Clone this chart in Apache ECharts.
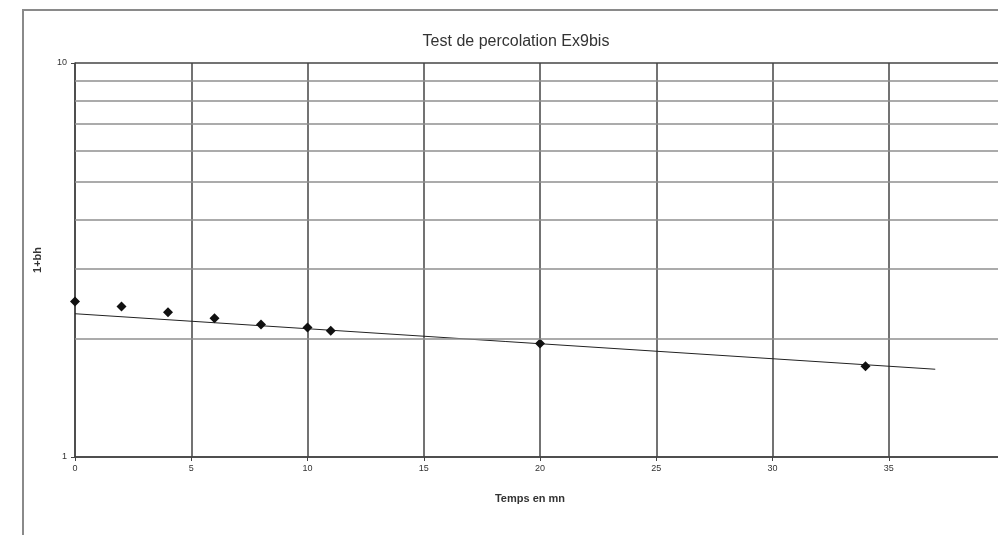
<!DOCTYPE html>
<html>
<head>
<meta charset="utf-8">
<script src="https://cdn.jsdelivr.net/npm/echarts@6/dist/echarts.min.js"></script>
<style>
  html, body { margin: 0; padding: 0; background: #fff; }
  #chart { width: 998px; height: 535px; }
</style>
</head>
<body>
<div id="chart"></div>
<script>
var tempsMn = [0, 2, 4, 6, 8, 10, 11, 20, 34];
var unPlusBh = [2.48, 2.41, 2.33, 2.25, 2.17, 2.13, 2.09, 1.94, 1.70];

// courbe de tendance (exponentielle, droite en echelle log)
var tendanceX = [0, 37];
var tendanceY = [2.31, 1.67];

// lignes secondaires de l'axe log
var lignesY = [2, 3, 4, 5, 6, 7, 8, 9];

var chart = echarts.init(document.getElementById('chart'));

var points = tempsMn.map(function (t, i) { return [t, unPlusBh[i]]; });
var tendance = tendanceX.map(function (t, i) { return [t, tendanceY[i]]; });

var option = {
    animation: false,
    textStyle: { fontFamily: 'Liberation Sans' },
    graphic: [{
        type: 'rect',
        shape: { x: 23, y: 10, width: 1000, height: 600 },
        style: { fill: 'none', stroke: '#8a8a8a', lineWidth: 2 },
        z: 100
    }],
    title: {
        text: 'Test de percolation Ex9bis',
        left: 511,
        top: 29,
        textAlign: 'center',
        textStyle: { fontSize: 16, fontWeight: 'normal', color: '#333' }
    },
    // le graphique d'origine est coupe a droite : la grille depasse le cadre
    grid: { left: 75, top: 63, width: 930, height: 394, outerBoundsMode: 'none', containLabel: false },
    xAxis: {
        type: 'value',
        min: 0,
        max: 40,
        interval: 5,
        name: 'Temps en mn',
        nameLocation: 'middle',
        nameGap: 36,
        nameTextStyle: { fontSize: 11, fontWeight: 'bold', color: '#333', padding: [0, 20, 0, 0] },
        axisLine: { lineStyle: { color: '#444', width: 1.5 } },
        axisTick: { show: true, length: 4, lineStyle: { color: '#444' } },
        axisLabel: { fontSize: 9, color: '#333', margin: 7, showMaxLabel: false },
        splitLine: { show: true, lineStyle: { color: '#444', width: 1.5 } }
    },
    yAxis: {
        type: 'log',
        logBase: 10,
        min: 1,
        max: 10,
        name: '1+bh',
        nameLocation: 'middle',
        nameGap: 32,
        nameRotate: 90,
        nameTextStyle: { fontSize: 11, fontWeight: 'bold', color: '#333' },
        axisLine: { show: true, lineStyle: { color: '#444', width: 1.5 } },
        axisTick: { show: true, length: 4, lineStyle: { color: '#444' } },
        axisLabel: { fontSize: 9, color: '#333', margin: 8 },
        splitLine: { show: true, lineStyle: { color: '#444', width: 1.5 } }
    },
    series: [
        {
            name: 'grille',
            type: 'line',
            data: [],
            silent: true,
            markLine: {
                silent: true,
                symbol: 'none',
                label: { show: false },
                lineStyle: { type: 'solid', color: '#8f8f8f', width: 1.5 },
                data: lignesY.map(function (v) { return { yAxis: v }; })
            }
        },
        {
            name: 'tendance',
            type: 'line',
            data: tendance,
            showSymbol: false,
            lineStyle: { color: '#222', width: 1 },
            z: 3
        },
        {
            name: '1+bh',
            type: 'scatter',
            data: points,
            symbol: 'diamond',
            symbolSize: 10,
            itemStyle: { color: '#111', opacity: 1 },
            z: 4
        }
    ]
};

chart.setOption(option);
</script>
</body>
</html>
